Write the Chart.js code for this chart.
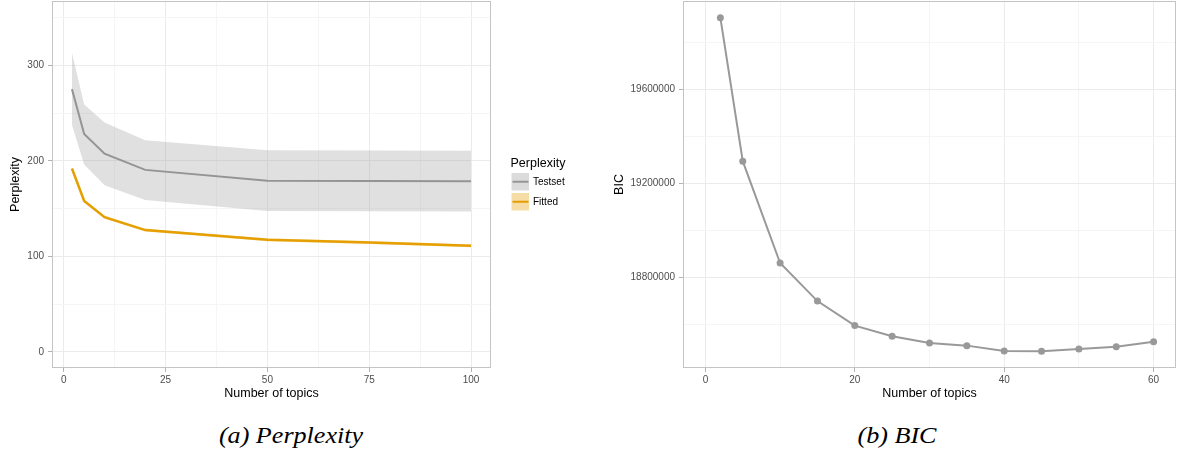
<!DOCTYPE html>
<html>
<head>
<meta charset="utf-8">
<script src="https://cdn.jsdelivr.net/npm/chart.js@4.4.1/dist/chart.umd.min.js"></script>
<style>
  html, body { margin: 0; padding: 0; background: #fff; width: 1180px; height: 457px; overflow: hidden; }
  #wrap { position: relative; width: 1180px; height: 457px; }
  canvas { position: absolute; top: 0; }
  #perp { left: 0; }
  #bic { left: 590px; }
  .cap { position: absolute; top: 420px; font-family: "Liberation Serif", "Times New Roman", serif;
         font-style: italic; font-size: 22.5px; line-height: 32px; color: #000; white-space: nowrap;
         transform: translateX(-50%) scaleX(1.16); }
</style>
</head>
<body>
<div id="wrap">
  <canvas id="perp" width="590" height="410"></canvas>
  <canvas id="bic" width="590" height="410"></canvas>
  <div class="cap" style="left:291px">(a) Perplexity</div>
  <div class="cap" style="left:897px">(b) BIC</div>
</div>
<script>
// ---- Perplexity by number of topics ----
const perpTopics   = [2, 5, 10, 20, 50, 75, 100];
const testsetMean  = [275, 228, 207.5, 190.5, 179, 178.8, 178.5];
const testsetHigh  = [313, 259, 240, 221.5, 211, 210.8, 210.5];
const testsetLow   = [237.5, 196, 174.5, 159, 147.5, 147.3, 147];
const fittedMean   = [192, 158, 141, 127.5, 117.3, 114.5, 111];
const fittedHigh   = [193.5, 159.5, 142.5, 129, 118.8, 116, 112.5];
const fittedLow    = [190.5, 156.5, 139.5, 126, 115.8, 113, 109.5];
const perpXTicks   = [0, 12.5, 25, 37.5, 50, 62.5, 75, 87.5, 100];
const perpXLabels  = [0, 25, 50, 75, 100];
const perpYTicks   = [0, 50, 100, 150, 200, 250, 300, 350];
const perpYLabels  = [0, 100, 200, 300];

// ---- BIC by number of topics ----
const bicTopics    = [2, 5, 10, 15, 20, 25, 30, 35, 40, 45, 50, 55, 60];
const bicValues    = [19907000, 19295500, 18861600, 18699400, 18594900, 18549500, 18521000,
                      18509600, 18486700, 18485400, 18495200, 18505300, 18526600];
const bicXTicks    = [0, 10, 20, 30, 40, 50, 60];
const bicXLabels   = [0, 20, 40, 60];
const bicYTicks    = [18600000, 18800000, 19000000, 19200000, 19400000, 19600000, 19800000];
const bicYLabels   = [18800000, 19200000, 19600000];

const FONT = '"Liberation Sans", Arial, sans-serif';
Chart.defaults.font.family = FONT;
Chart.defaults.animation = false;

const pts = (xs, ys) => xs.map((x, i) => ({ x, y: ys[i] }));

// frame around the plotting panel, drawn above the data
const panelBorder = {
  id: 'panelBorder',
  afterDatasetsDraw(chart) {
    const { ctx, chartArea: a } = chart;
    ctx.save();
    ctx.strokeStyle = '#c4c4c4';
    ctx.lineWidth = 1;
    ctx.strokeRect(Math.round(a.left) + 0.5, Math.round(a.top) + 0.5,
                   Math.round(a.right - a.left) - 1, Math.round(a.bottom - a.top) - 1);
    ctx.restore();
  }
};

function axis(opts) {
  const { min, max, ticks, labels, title, size, horizontal, titlePad } = opts;
  return {
    type: 'linear',
    min, max,
    afterBuildTicks: s => { s.ticks = ticks.map(v => ({ value: v })); },
    afterFit: s => {
      if (horizontal) s.height = size; else s.width = size;
      s.paddingTop = 0; s.paddingBottom = 0; s.paddingLeft = 0; s.paddingRight = 0;
    },
    ticks: {
      autoSkip: false, maxRotation: 0, color: '#4d4d4d',
      font: { size: 10 }, padding: horizontal ? 2 : 4,
      callback: v => labels.includes(v) ? String(v) : ''
    },
    grid: {
      color: c => labels.includes(c.tick.value) ? '#ebebeb' : '#f5f5f5',
      lineWidth: 1,
      tickLength: 4,
      tickColor: c => labels.includes(c.tick.value) ? '#b3b3b3' : 'rgba(0,0,0,0)'
    },
    border: { display: false },
    title: {
      display: true, text: title, color: '#000', font: { size: 12.5 },
      padding: horizontal ? { top: 0, bottom: titlePad } : { top: titlePad, bottom: 0 }
    }
  };
}

// legend for the perplexity panel
const perpLegend = {
  id: 'perpLegend',
  afterDraw(chart) {
    const { ctx } = chart;
    ctx.save();
    ctx.textBaseline = 'middle';
    ctx.textAlign = 'left';
    ctx.fillStyle = '#000';
    ctx.font = '12.5px ' + FONT;
    ctx.fillText('Perplexity', 510.5, 163.5);
    const keys = [
      { label: 'Testset', fill: 'rgba(153,153,153,0.35)', line: '#969696', y: 173 },
      { label: 'Fitted',  fill: 'rgba(230,159,0,0.35)',   line: '#E69F00', y: 193 }
    ];
    keys.forEach(k => {
      ctx.fillStyle = k.fill;
      ctx.fillRect(511.5, k.y, 17.5, 17.5);
      ctx.strokeStyle = k.line;
      ctx.lineWidth = 2;
      ctx.beginPath();
      ctx.moveTo(512.5, k.y + 8.75);
      ctx.lineTo(528.5, k.y + 8.75);
      ctx.stroke();
      ctx.fillStyle = '#000';
      ctx.font = '10px ' + FONT;
      ctx.fillText(k.label, 533, k.y + 9);
    });
    ctx.restore();
  }
};

const band = { borderWidth: 0, pointRadius: 0, tension: 0 };

new Chart(document.getElementById('perp'), {
  type: 'line',
  data: {
    datasets: [
      { label: 'Testset high', data: pts(perpTopics, testsetHigh), fill: '+1',
        backgroundColor: 'rgba(153,153,153,0.3)', ...band },
      { label: 'Testset low', data: pts(perpTopics, testsetLow), fill: false, ...band },
      { label: 'Fitted high', data: pts(perpTopics, fittedHigh), fill: '+1',
        backgroundColor: 'rgba(230,159,0,0.3)', ...band },
      { label: 'Fitted low', data: pts(perpTopics, fittedLow), fill: false, ...band },
      { label: 'Testset', data: pts(perpTopics, testsetMean), borderColor: '#939393',
        borderWidth: 2, pointRadius: 0, fill: false, tension: 0 },
      { label: 'Fitted', data: pts(perpTopics, fittedMean), borderColor: '#E69F00',
        borderWidth: 2.5, pointRadius: 0, fill: false, tension: 0 }
    ]
  },
  options: {
    responsive: false,
    animation: false,
    layout: { autoPadding: false, padding: { left: 0, right: 99, top: 1, bottom: 0 } },
    plugins: { legend: { display: false }, tooltip: { enabled: false } },
    scales: {
      x: axis({ min: -2.9, max: 104.9, ticks: perpXTicks, labels: perpXLabels,
                title: 'Number of topics', size: 42, horizontal: true, titlePad: 8.5 }),
      y: axis({ min: -16.8, max: 367.2, ticks: perpYTicks, labels: perpYLabels,
                title: 'Perplexity', size: 52, horizontal: false, titlePad: 8.5 })
    }
  },
  plugins: [panelBorder, perpLegend]
});

new Chart(document.getElementById('bic'), {
  type: 'line',
  data: {
    datasets: [
      { label: 'BIC', data: pts(bicTopics, bicValues), borderColor: '#999999', borderWidth: 2,
        pointRadius: 3.5, pointBackgroundColor: '#999999', pointBorderWidth: 0,
        fill: false, tension: 0 }
    ]
  },
  options: {
    responsive: false,
    animation: false,
    layout: { autoPadding: false, padding: { left: 0, right: 4, top: 1, bottom: 0 } },
    plugins: { legend: { display: false }, tooltip: { enabled: false } },
    scales: {
      x: axis({ min: -3, max: 63, ticks: bicXTicks, labels: bicXLabels,
                title: 'Number of topics', size: 42, horizontal: true, titlePad: 8.5 }),
      y: axis({ min: 18414300, max: 19978100, ticks: bicYTicks, labels: bicYLabels,
                title: 'BIC', size: 93, horizontal: false, titlePad: 22.5 })
    }
  },
  plugins: [panelBorder]
});
</script>
</body>
</html>
